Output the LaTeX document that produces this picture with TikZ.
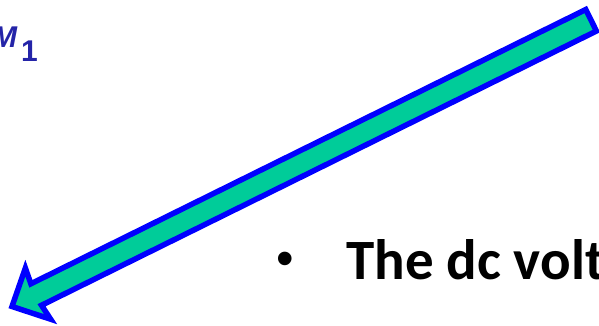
\documentclass[tikz,border=0pt]{standalone}
\usepackage{fontspec}
\setmainfont{Carlito}
\newfontfamily\arialfont{Liberation Sans}
\usetikzlibrary{positioning}
\definecolor{cB}{HTML}{0000FF}
\definecolor{cG}{HTML}{00CC99}
\definecolor{cM}{HTML}{2424A8}
\tikzset{
  fatarrow/.style={draw=cB,fill=cG,line width=5.5pt,line join=miter},
  symb/.style={inner sep=0pt,anchor=base west,text=cM,
               font=\arialfont\bfseries\fontsize{30}{32}\selectfont},
  bullettext/.style={inner sep=0pt,font=\bfseries\fontsize{57}{66}\selectfont},
}
\begin{document}
\begin{tikzpicture}[x=1pt,y=1pt]
  \useasboundingbox (0,0) rectangle (599,326);
  % big arrow pointing down-left
  \begin{scope}[shift={(12,19.5)},rotate=26.3]
    \draw[fatarrow] (0,0) -- (29,28.5) -- (27,12) -- (646,12)
      -- (646,-12) -- (27,-12) -- (29,-28.5) -- cycle;
  \end{scope}
  % symbol top left
  \node[symb] (vm) at (-8,278) {\itshape M};
  \node[symb] (vsub) at (21,264) {1};
  % bullet line
  \node[bullettext,anchor=base west] (txt) at (346,46) {The dc volt};
  \node[inner sep=0pt,font=\arialfont\fontsize{50}{60}\selectfont]
    (dot) at (285.5,62) {\textbullet};
\end{tikzpicture}
\end{document}
